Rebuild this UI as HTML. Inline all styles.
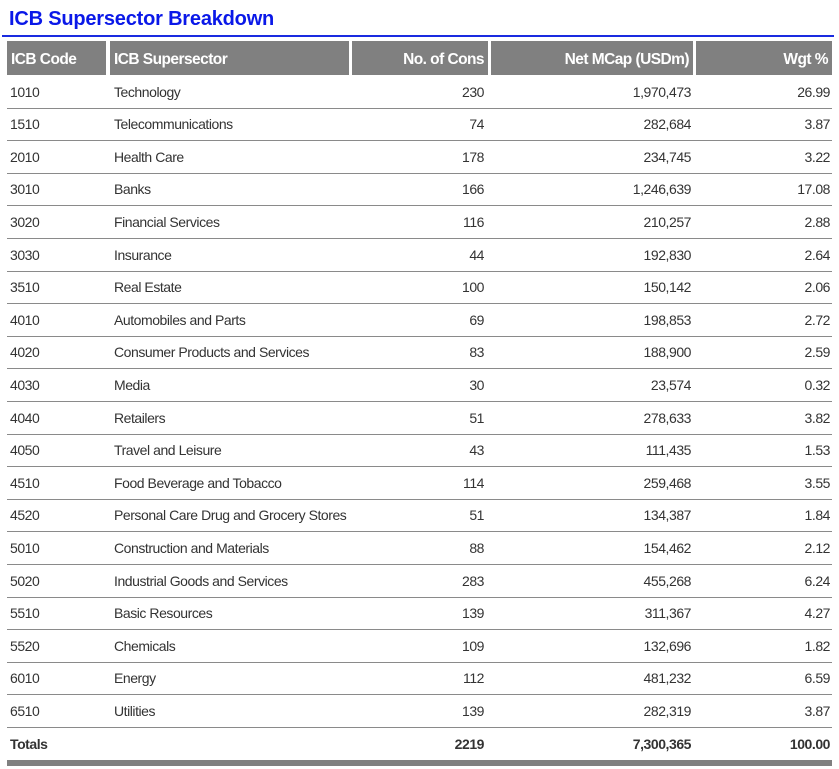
<!DOCTYPE html>
<html><head><meta charset="utf-8"><style>
body{margin:0;width:839px;height:769px;background:#fff;position:relative;font-family:"Liberation Sans",Arial,sans-serif;overflow:hidden}
.t{position:absolute;left:9px;top:8px;font-size:20px;font-weight:bold;color:#0a18e8;letter-spacing:-0.2px}
.bl{position:absolute;left:2px;top:35px;width:832px;height:2px;background:#1a2be0}
.h{position:absolute;top:41px;height:34px;background:#808080;color:#fff;font-weight:bold;font-size:15.5px;line-height:37px;box-sizing:border-box;padding:0 4px;letter-spacing:-0.55px}
.r{position:absolute;left:7px;width:825px;height:33px;border-bottom:1px solid #8a8a8a;box-sizing:border-box;font-size:14px;color:#333;letter-spacing:-0.45px}
.r span{position:absolute;top:8px}
.a{left:3px}.b{left:107px}.c{right:348px}.d{right:141px}.e{right:2px}
.tot span{font-weight:bold}
.bb{position:absolute;left:7px;top:760px;width:825px;height:6px;background:#808080}
</style></head><body>
<div class="t">ICB Supersector Breakdown</div>
<div class="bl"></div>
<div class="h" style="left:7px;width:99px">ICB Code</div>
<div class="h" style="left:110px;width:239px">ICB Supersector</div>
<div class="h" style="left:352px;width:136px;text-align:right">No. of Cons</div>
<div class="h" style="left:491px;width:202px;text-align:right">Net MCap (USDm)</div>
<div class="h" style="left:696px;width:136px;text-align:right">Wgt %</div>
<div class="r" style="top:75.5px"><span class="a">1010</span><span class="b">Technology</span><span class="c">230</span><span class="d">1,970,473</span><span class="e">26.99</span></div>
<div class="r" style="top:108.1px"><span class="a">1510</span><span class="b">Telecommunications</span><span class="c">74</span><span class="d">282,684</span><span class="e">3.87</span></div>
<div class="r" style="top:140.7px"><span class="a">2010</span><span class="b">Health Care</span><span class="c">178</span><span class="d">234,745</span><span class="e">3.22</span></div>
<div class="r" style="top:173.3px"><span class="a">3010</span><span class="b">Banks</span><span class="c">166</span><span class="d">1,246,639</span><span class="e">17.08</span></div>
<div class="r" style="top:205.9px"><span class="a">3020</span><span class="b">Financial Services</span><span class="c">116</span><span class="d">210,257</span><span class="e">2.88</span></div>
<div class="r" style="top:238.5px"><span class="a">3030</span><span class="b">Insurance</span><span class="c">44</span><span class="d">192,830</span><span class="e">2.64</span></div>
<div class="r" style="top:271.1px"><span class="a">3510</span><span class="b">Real Estate</span><span class="c">100</span><span class="d">150,142</span><span class="e">2.06</span></div>
<div class="r" style="top:303.7px"><span class="a">4010</span><span class="b">Automobiles and Parts</span><span class="c">69</span><span class="d">198,853</span><span class="e">2.72</span></div>
<div class="r" style="top:336.3px"><span class="a">4020</span><span class="b">Consumer Products and Services</span><span class="c">83</span><span class="d">188,900</span><span class="e">2.59</span></div>
<div class="r" style="top:368.9px"><span class="a">4030</span><span class="b">Media</span><span class="c">30</span><span class="d">23,574</span><span class="e">0.32</span></div>
<div class="r" style="top:401.5px"><span class="a">4040</span><span class="b">Retailers</span><span class="c">51</span><span class="d">278,633</span><span class="e">3.82</span></div>
<div class="r" style="top:434.1px"><span class="a">4050</span><span class="b">Travel and Leisure</span><span class="c">43</span><span class="d">111,435</span><span class="e">1.53</span></div>
<div class="r" style="top:466.7px"><span class="a">4510</span><span class="b">Food Beverage and Tobacco</span><span class="c">114</span><span class="d">259,468</span><span class="e">3.55</span></div>
<div class="r" style="top:499.3px"><span class="a">4520</span><span class="b">Personal Care Drug and Grocery Stores</span><span class="c">51</span><span class="d">134,387</span><span class="e">1.84</span></div>
<div class="r" style="top:531.9px"><span class="a">5010</span><span class="b">Construction and Materials</span><span class="c">88</span><span class="d">154,462</span><span class="e">2.12</span></div>
<div class="r" style="top:564.5px"><span class="a">5020</span><span class="b">Industrial Goods and Services</span><span class="c">283</span><span class="d">455,268</span><span class="e">6.24</span></div>
<div class="r" style="top:597.1px"><span class="a">5510</span><span class="b">Basic Resources</span><span class="c">139</span><span class="d">311,367</span><span class="e">4.27</span></div>
<div class="r" style="top:629.7px"><span class="a">5520</span><span class="b">Chemicals</span><span class="c">109</span><span class="d">132,696</span><span class="e">1.82</span></div>
<div class="r" style="top:662.3px"><span class="a">6010</span><span class="b">Energy</span><span class="c">112</span><span class="d">481,232</span><span class="e">6.59</span></div>
<div class="r" style="top:694.9px"><span class="a">6510</span><span class="b">Utilities</span><span class="c">139</span><span class="d">282,319</span><span class="e">3.87</span></div>
<div class="r tot" style="top:727.5px;border-bottom:none"><span class="a">Totals</span><span class="c">2219</span><span class="d">7,300,365</span><span class="e">100.00</span></div>
<div class="bb"></div>
</body></html>
